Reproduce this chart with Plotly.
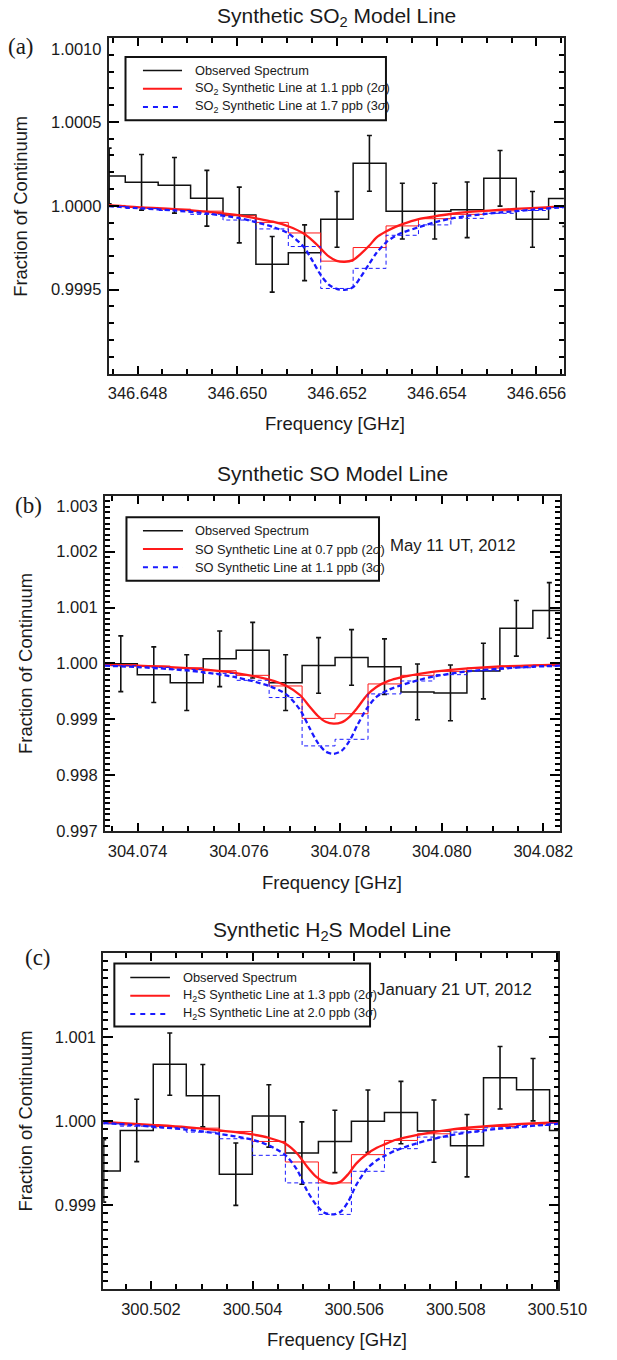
import numpy as np
import plotly.graph_objects as go

W, H = 617, 1360

# ---------------- Panel (a): SO2 ----------------
so2_freq = [346.64743, 346.64808, 346.64874, 346.64939, 346.65004, 346.65070, 346.65135, 346.65200,
            346.65265, 346.65331, 346.65396, 346.65461, 346.65527, 346.65592, 346.65657]
so2_obs = [1.000178, 1.000140, 1.000122, 1.000045, 0.999945, 0.999651, 0.999720, 0.999919,
           1.000253, 0.999968, 0.999968, 0.999976, 1.000164, 0.999919, 1.000043]
so2_err = [0.000166, 0.000166, 0.000166, 0.000166, 0.000166, 0.000166, 0.000166, 0.000166,
           0.000166, 0.000166, 0.000166, 0.000166, 0.000166, 0.000166, 0.000166]
so2_step_2s = [1.000002, 0.999990, 0.999980, 0.999968, 0.999941, 0.999901, 0.999838, 0.999670,
               0.999751, 0.999880, 0.999923, 0.999949, 0.999970, 0.999984, 0.999996]
so2_step_3s = [0.999996, 0.999984, 0.999972, 0.999949, 0.999915, 0.999862, 0.999757, 0.999507,
               0.999627, 0.999824, 0.999886, 0.999925, 0.999955, 0.999972, 0.999990]
so2_model_freq = [346.647420, 346.648096, 346.648732, 346.649408, 346.650051, 346.650382, 346.650713,
                  346.651019, 346.651325, 346.651516, 346.651669, 346.651834, 346.651993, 346.652153,
                  346.652318, 346.652471, 346.652649, 346.652789, 346.652981, 346.653172, 346.653312,
                  346.653637, 346.653955, 346.654273, 346.654598, 346.655242, 346.655904, 346.656547]
so2_model_2s = [1.000004, 0.999990, 0.999980, 0.999964, 0.999943, 0.999925, 0.999905, 0.999878,
                0.999836, 0.999791, 0.999747, 0.999698, 0.999672, 0.999666, 0.999676, 0.999712,
                0.999763, 0.999810, 0.999846, 0.999874, 0.999891, 0.999921, 0.999937, 0.999951,
                0.999962, 0.999976, 0.999986, 0.999996]
so2_model_3s = [0.999998, 0.999984, 0.999972, 0.999953, 0.999925, 0.999901, 0.999874, 0.999836,
                0.999757, 0.999668, 0.999589, 0.999530, 0.999505, 0.999499, 0.999514, 0.999574,
                0.999655, 0.999718, 0.999781, 0.999820, 0.999840, 0.999872, 0.999901, 0.999923,
                0.999939, 0.999959, 0.999976, 0.999992]
so2_xticks = [346.648, 346.650, 346.652, 346.654, 346.656]
so2_yticks = [0.9995, 1.0000, 1.0005, 1.0010]

# ---------------- Panel (b): SO ----------------
so_freq = [304.07367, 304.07432, 304.07497, 304.07562, 304.07627, 304.07692, 304.07757,
           304.07822, 304.07887, 304.07952, 304.08017, 304.08082, 304.08147, 304.08212]
so_obs = [0.999994, 0.999799, 0.999656, 1.000083, 1.000237, 0.999656, 0.999964,
          1.000107, 0.999941, 0.999491, 0.999473, 0.999864, 1.000628, 1.000948]
so_err = [0.000498, 0.000498, 0.000498, 0.000498, 0.000498, 0.000498, 0.000498,
          0.000498, 0.000498, 0.000498, 0.000498, 0.000498, 0.000498, 0.000498]
so_step_2s = [0.999976, 0.999953, 0.999923, 0.999870, 0.999787, 0.999597, 0.999017,
              0.999100, 0.999633, 0.999787, 0.999858, 0.999917, 0.999953, 0.999970]
so_step_3s = [0.999959, 0.999929, 0.999893, 0.999822, 0.999698, 0.999390, 0.998525,
              0.998643, 0.999455, 0.999686, 0.999799, 0.999870, 0.999923, 0.999953]
so_model_freq = [304.073355, 304.074000, 304.074639, 304.075284, 304.075942, 304.076594, 304.076938,
                 304.077208, 304.077396, 304.077552, 304.077709, 304.077866, 304.078022, 304.078179,
                 304.078335, 304.078523, 304.078711, 304.078962, 304.079194, 304.079526, 304.079852,
                 304.080509, 304.081155, 304.081800, 304.082332]
so_model_2s = [0.999976, 0.999959, 0.999935, 0.999893, 0.999828, 0.999710, 0.999597, 0.999431,
               0.999224, 0.999064, 0.998957, 0.998922, 0.998946, 0.999046, 0.999206, 0.999431,
               0.999579, 0.999692, 0.999751, 0.999810, 0.999852, 0.999911, 0.999947, 0.999964,
               0.999976]
so_model_3s = [0.999959, 0.999935, 0.999899, 0.999846, 0.999751, 0.999597, 0.999443, 0.999165,
               0.998839, 0.998584, 0.998424, 0.998383, 0.998436, 0.998614, 0.998898, 0.999194,
               0.999402, 0.999532, 0.999609, 0.999698, 0.999769, 0.999858, 0.999905, 0.999941,
               0.999959]
so_xticks = [304.074, 304.076, 304.078, 304.080, 304.082]
so_yticks = [0.997, 0.998, 0.999, 1.000, 1.001, 1.002, 1.003]

# ---------------- Panel (c): H2S ----------------
h2s_freq = [300.50107, 300.50172, 300.50237, 300.50302, 300.50367, 300.50432, 300.50497, 300.50562,
            300.50627, 300.50692, 300.50757, 300.50822, 300.50887, 300.50952, 300.51017]
h2s_obs = [0.999406, 0.999888, 1.000677, 1.000302, 0.999367, 1.000061, 0.999619, 0.999757,
           0.999998, 1.000101, 0.999880, 0.999706, 1.000515, 1.000373, 0.999888]
h2s_err = [0.000371, 0.000371, 0.000371, 0.000371, 0.000371, 0.000371, 0.000371, 0.000371,
           0.000371, 0.000371, 0.000371, 0.000371, 0.000371, 0.000371, 0.000371]
h2s_step_2s = [0.999974, 0.999955, 0.999935, 0.999915, 0.999876, 0.999757, 0.999513, 0.999264,
               0.999600, 0.999769, 0.999848, 0.999899, 0.999935, 0.999963, 0.999982]
h2s_step_3s = [0.999966, 0.999939, 0.999919, 0.999868, 0.999789, 0.999592, 0.999264, 0.998889,
               0.999402, 0.999671, 0.999809, 0.999868, 0.999919, 0.999947, 0.999974]
h2s_model_freq = [300.501061, 300.502000, 300.502689, 300.503346, 300.503997, 300.504316, 300.504648,
                  300.504880, 300.505067, 300.505255, 300.505412, 300.505568, 300.505725, 300.505881,
                  300.506038, 300.506257, 300.506445, 300.506595, 300.506820, 300.507246, 300.507897,
                  300.508548, 300.509199, 300.509850, 300.510032]
h2s_model_2s = [0.999990, 0.999955, 0.999927, 0.999888, 0.999840, 0.999801, 0.999730, 0.999611,
                0.999462, 0.999335, 0.999276, 0.999256, 0.999276, 0.999367, 0.999493, 0.999611,
                0.999682, 0.999722, 0.999777, 0.999836, 0.999899, 0.999935, 0.999963, 0.999982,
                0.999990]
h2s_model_3s = [0.999978, 0.999935, 0.999899, 0.999848, 0.999777, 0.999710, 0.999592, 0.999414,
                0.999177, 0.999000, 0.998909, 0.998889, 0.998917, 0.999039, 0.999237, 0.999434,
                0.999533, 0.999584, 0.999651, 0.999738, 0.999832, 0.999888, 0.999927, 0.999959,
                0.999970]
h2s_xticks = [300.502, 300.504, 300.506, 300.508, 300.510]
h2s_yticks = [0.999, 1.000, 1.001]

# ---------------- helpers ----------------
def fx(p):
    return p / W


def fy(p):
    return 1 - p / H


def step_xy(centers, vals):
    c = np.asarray(centers, dtype=float)
    v = np.asarray(vals, dtype=float)
    w = np.mean(np.diff(c))
    edges = np.concatenate([c - w / 2, [c[-1] + w / 2]])
    yy = np.concatenate([v, [v[-1]]])
    return edges, yy


def minor_vals(rng, step):
    k0 = int(np.ceil(rng[0] / step - 1e-6))
    k1 = int(np.floor(rng[1] / step + 1e-6))
    return [round(k * step, 7) for k in range(k0, k1 + 1)]


FONT = "Liberation Sans, Arial, Helvetica, sans-serif"
SERIF = "Liberation Serif, DejaVu Serif, serif"
INK = "#000000"
TXT = "#1a1a1a"
RED = "#ff1a1a"
BLUE = "#1a1aff"

panels = [
    dict(freq=so2_freq, obs=so2_obs, err=so2_err, s2=so2_step_2s, s3=so2_step_3s,
         mf=so2_model_freq, m2=so2_model_2s, m3=so2_model_3s,
         xticks=so2_xticks, yticks=so2_yticks, yfmt="{:.4f}",
         xr=[346.64742, 346.65655], yr=[0.9990, 1.0010],
         box=(114, 38.3, 591.7, 376),
         title="Synthetic SO<sub>2</sub> Model Line", title_xy=(353, 17),
         xlab_xy=(352, 426), ylab_x=22, tag="(a)", tag_xy=(22, 47),
         leg_box=(131.7, 57.3, 405, 121), leg_rows=[71, 89.3, 107.7], leg_line=(150, 191), leg_text=202,
         leg_names=["Observed Spectrum",
                    "SO<sub>2</sub> Synthetic Line at 1.1 ppb (2<i>σ</i>)",
                    "SO<sub>2</sub> Synthetic Line at 1.7 ppb (3<i>σ</i>)"],
         date=None),
    dict(freq=so_freq, obs=so_obs, err=so_err, s2=so_step_2s, s3=so_step_3s,
         mf=so_model_freq, m2=so_model_2s, m3=so_model_3s,
         xticks=so_xticks, yticks=so_yticks, yfmt="{:.3f}",
         xr=[304.073355, 304.082332], yr=[0.997, 1.003],
         box=(110, 499, 587.7, 836.7),
         title="Synthetic SO Model Line", title_xy=(349, 477),
         xlab_xy=(348, 888), ylab_x=26.7, tag="(b)", tag_xy=(30, 509),
         leg_box=(132.7, 520.7, 397.7, 584.7), leg_rows=[534.3, 552.7, 571], leg_line=(150, 192), leg_text=203,
         leg_names=["Observed Spectrum",
                    "SO Synthetic Line at 0.7 ppb (2<i>σ</i>)",
                    "SO Synthetic Line at 1.1 ppb (3<i>σ</i>)"],
         date=("May 11 UT, 2012", 475, 549.3)),
    dict(freq=h2s_freq, obs=h2s_obs, err=h2s_err, s2=h2s_step_2s, s3=h2s_step_3s,
         mf=h2s_model_freq, m2=h2s_model_2s, m3=h2s_model_3s,
         xticks=h2s_xticks, yticks=h2s_yticks, yfmt="{:.3f}",
         xr=[300.50106, 300.51002], yr=[0.998, 1.002],
         box=(108.3, 959.3, 586, 1297.7),
         title="Synthetic H<sub>2</sub>S Model Line", title_xy=(348, 937.7),
         xlab_xy=(354, 1348), ylab_x=26.7, tag="(c)", tag_xy=(40, 964),
         leg_box=(120, 970, 388.3, 1033.3), leg_rows=[984, 1002.3, 1020.7], leg_line=(136.7, 178.3), leg_text=190,
         leg_names=["Observed Spectrum",
                    "H<sub>2</sub>S Synthetic Line at 1.3 ppb (2<i>σ</i>)",
                    "H<sub>2</sub>S Synthetic Line at 2.0 ppb (3<i>σ</i>)"],
         date=("January 21 UT, 2012", 476.7, 995.7)),
]

fig = go.Figure()
annotations = []
shapes = []


def ann(text, x, y, size, family=FONT, xanchor="center", yanchor="middle", angle=0):
    annotations.append(dict(text=text, x=fx(x), y=fy(y), xref="paper", yref="paper",
                            showarrow=False, xanchor=xanchor, yanchor=yanchor, textangle=angle,
                            font=dict(family=family, size=size, color=TXT)))


for i, p in enumerate(panels):
    n = "" if i == 0 else str(i + 1)
    xa, ya = "x" + n, "y" + n

    ex, ey = step_xy(p["freq"], p["obs"])
    fig.add_trace(go.Scatter(x=ex, y=ey, mode="lines", line=dict(color="#111111", width=1.5, shape="hv"),
                             name="Observed Spectrum", showlegend=False, xaxis=xa, yaxis=ya))
    fig.add_trace(go.Scatter(x=p["freq"], y=p["obs"], mode="markers",
                             marker=dict(size=1, color="rgba(0,0,0,0)"),
                             error_y=dict(type="data", array=p["err"], visible=True, color="#111111",
                                          thickness=1.6, width=2.5),
                             showlegend=False, hoverinfo="skip", xaxis=xa, yaxis=ya))
    sx, sy = step_xy(p["freq"], p["s2"])
    fig.add_trace(go.Scatter(x=sx, y=sy, mode="lines", line=dict(color=RED, width=1.0, shape="hv"),
                             showlegend=False, xaxis=xa, yaxis=ya))
    fig.add_trace(go.Scatter(x=p["mf"], y=p["m2"], mode="lines",
                             line=dict(color=RED, width=2.3, shape="spline", smoothing=0.8),
                             name="2σ model", showlegend=False, xaxis=xa, yaxis=ya))
    sx, sy = step_xy(p["freq"], p["s3"])
    fig.add_trace(go.Scatter(x=sx, y=sy, mode="lines",
                             line=dict(color=BLUE, width=1.0, shape="hv", dash="4px,3px"),
                             showlegend=False, xaxis=xa, yaxis=ya))
    fig.add_trace(go.Scatter(x=p["mf"], y=p["m3"], mode="lines",
                             line=dict(color=BLUE, width=2.3, shape="spline", smoothing=0.8, dash="5px,3px"),
                             name="3σ model", showlegend=False, xaxis=xa, yaxis=ya))

    x0, y0, x1, y1 = p["box"]
    ytext = [p["yfmt"].format(v) for v in p["yticks"]]
    if abs(p["yticks"][-1] - p["yr"][1]) < 1e-9:
        ytext[-1] = "<br>" + ytext[-1]   # top label sits just below the top edge, as in the original

    axcommon = dict(showgrid=False, zeroline=False, showline=True, linecolor="#222222", linewidth=1.8,
                    mirror="allticks", ticks="inside", tickcolor=INK, tickwidth=2,
                    tickfont=dict(family=FONT, size=16.5, color=TXT), layer="above traces")
    fig.layout["xaxis" + n] = dict(axcommon, domain=[fx(x0), fx(x1)], range=p["xr"], anchor=ya,
                                   tickmode="array", tickvals=p["xticks"], tickformat=".3f", ticklen=8,
                                   ticklabelstandoff=4,
                                   minor=dict(tickmode="array", tickvals=minor_vals(p["xr"], 0.0005),
                                              ticks="inside", ticklen=5, tickwidth=1.6, tickcolor=INK))
    fig.layout["yaxis" + n] = dict(axcommon, domain=[fy(y1), fy(y0)], range=p["yr"], anchor=xa,
                                   tickmode="array", tickvals=p["yticks"], ticktext=ytext, ticklen=10,
                                   ticklabelstandoff=2,
                                   minor=dict(tickmode="array", tickvals=minor_vals(p["yr"], 0.0001),
                                              ticks="inside", ticklen=5, tickwidth=1.6, tickcolor=INK))

    ann(p["title"], p["title_xy"][0], p["title_xy"][1], 21)
    ann("Frequency [GHz]", p["xlab_xy"][0], p["xlab_xy"][1], 18.5)
    ann("Fraction of Continuum", p["ylab_x"], (y0 + y1) / 2, 18.4, angle=-90)
    ann(p["tag"], p["tag_xy"][0], p["tag_xy"][1], 23, family=SERIF)
    if p["date"]:
        ann(p["date"][0], p["date"][1], p["date"][2], 16.8)

    lx0, ly0, lx1, ly1 = p["leg_box"]
    shapes.append(dict(type="rect", xref="paper", yref="paper", x0=fx(lx0), x1=fx(lx1), y0=fy(ly1), y1=fy(ly0),
                       line=dict(color="#111111", width=2), fillcolor="white", layer="below"))
    styles = [dict(color="#111111", width=1.5), dict(color=RED, width=2), dict(color=BLUE, width=2, dash="5px,5px")]
    for row, name, st in zip(p["leg_rows"], p["leg_names"], styles):
        shapes.append(dict(type="line", xref="paper", yref="paper", x0=fx(p["leg_line"][0]), x1=fx(p["leg_line"][1]),
                           y0=fy(row), y1=fy(row), line=st))
        ann(name, p["leg_text"], row, 12.8, xanchor="left")

fig.update_layout(width=W, height=H, margin=dict(l=0, r=0, t=0, b=0), showlegend=False,
                  paper_bgcolor="white", plot_bgcolor="rgba(0,0,0,0)",
                  annotations=annotations, shapes=shapes)

fig.write_html("out.html")
